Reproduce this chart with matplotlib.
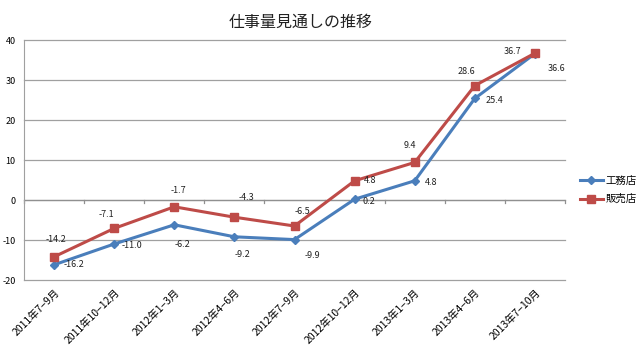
import matplotlib
matplotlib.use("Agg")
import matplotlib.pyplot as plt

plt.rcParams['font.family'] = ['Noto Sans CJK JP', 'DejaVu Sans']

categories = ["2011年7−9月", "2011年10−12月", "2012年1−3月", "2012年4−6月", "2012年7−9月",
              "2012年10−12月", "2013年1−3月", "2013年4−6月", "2013年7−10月"]
koumuten = [-16.2, -11.0, -6.2, -9.2, -9.9, 0.2, 4.8, 25.4, 36.6]
hanbaiten = [-14.2, -7.1, -1.7, -4.3, -6.5, 4.8, 9.4, 28.6, 36.7]
yticks = [-20, -10, 0, 10, 20, 30, 40]

# label offsets in pixels (dx, dy)
blue_off = [(20, 0), (18, -2), (8, -20), (8, -18), (18, -16), (14, -2), (16, -2), (20, -2), (22, -15)]
red_off = [(2, 17), (-8, 14), (4, 16), (12, 20), (8, 14), (16, 0), (-5, 17), (-8, 14), (-22, 2)]

blue = '#4A7EBB'
red = '#BE4B48'

fig = plt.figure(figsize=(6.4, 3.48), dpi=100)
ax = fig.add_axes([24/640, 1 - 280/348, (565 - 24)/640, 240/348])

x = list(range(len(categories)))
ax.plot(x, koumuten, color=blue, lw=2.2, marker='D', ms=4.5, label='工務店', zorder=3)
ax.plot(x, hanbaiten, color=red, lw=2.2, marker='s', ms=6, label='販売店', zorder=3)

for i, v in enumerate(koumuten):
    ax.annotate(f"{v:.1f}", (i, v), xytext=blue_off[i], textcoords='offset pixels',
                ha='center', va='center', fontsize=6.5, color='#222222')
for i, v in enumerate(hanbaiten):
    ax.annotate(f"{v:.1f}", (i, v), xytext=red_off[i], textcoords='offset pixels',
                ha='center', va='center', fontsize=6.5, color='#222222')

ax.set_xlim(-0.5, len(categories) - 0.5)
ax.set_ylim(-20, 40)
ax.set_yticks(yticks)
ax.set_yticklabels([str(t) for t in yticks], fontsize=6.5)
for t in yticks:
    ax.axhline(t, color='#A0A0A0', lw=0.9, zorder=0, clip_on=False)
ax.tick_params(axis='y', length=0, pad=6)
ax.set_xticks(x)
ax.set_xticklabels(categories, rotation=45, ha='right', rotation_mode='anchor', fontsize=7.5)
ax.tick_params(axis='x', length=0, pad=5)
for s in ['top', 'right', 'bottom']:
    ax.spines[s].set_visible(False)
ax.spines['left'].set_color('#A0A0A0')
ax.axhline(0, color='#909090', lw=0.9, zorder=1)
for b in range(len(categories) + 1):
    ax.plot([b - 0.5, b - 0.5], [0, -0.8], color='#909090', lw=0.9, zorder=1, clip_on=False)

fig.text(301/640, 1 - 22/348, '仕事量見通しの推移', ha='center', va='center', fontsize=11.5, color='#222222')

leg = ax.legend(loc='center left', bbox_to_anchor=(1.01, 0.375), frameon=False, fontsize=7.5,
                handlelength=2.2, handletextpad=0.3, labelspacing=0.8)

fig.savefig('out.png', dpi=100, facecolor='white')
